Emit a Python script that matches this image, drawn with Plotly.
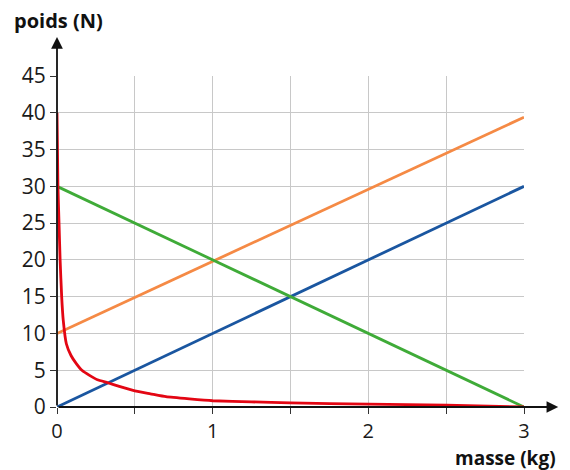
import plotly.graph_objects as go

# Data
masse = [0, 3]
poids_bleu = [0, 30]
poids_orange = [10, 39.4]
poids_vert = [30, 0]
masse_rouge = [0, 0.006, 0.013, 0.02, 0.03, 0.04, 0.06, 0.09, 0.124, 0.16, 0.209,
               0.26, 0.326, 0.4, 0.5, 0.6, 0.7, 0.85, 1.0, 1.25, 1.5, 2.0, 2.5, 3.0]
poids_rouge = [40, 30, 25, 20, 15, 11.8, 8.6, 7.0, 5.9, 5.0, 4.3,
               3.7, 3.3, 2.8, 2.2, 1.8, 1.4, 1.1, 0.85, 0.7, 0.55, 0.4, 0.25, 0]

x_ticks = [0, 0.5, 1, 1.5, 2, 2.5, 3]
x_ticktext = ["0", "", "1", "", "2", "", "3"]
y_ticks = [0, 5, 10, 15, 20, 25, 30, 35, 40, 45]

FONT = "Open Sans"
W, H = 562, 462          # page has an 8px body offset
L, R, T, B = 49, 46, 68, 63
PW, PH = W - L - R, H - T - B

fig = go.Figure()
line_w = 2.8
fig.add_trace(go.Scatter(x=masse, y=poids_bleu, mode="lines",
                         line=dict(color="#1a56a0", width=line_w)))
fig.add_trace(go.Scatter(x=masse, y=poids_orange, mode="lines",
                         line=dict(color="#f58a45", width=line_w)))
fig.add_trace(go.Scatter(x=masse, y=poids_vert, mode="lines",
                         line=dict(color="#3fab38", width=line_w)))
fig.add_trace(go.Scatter(x=masse_rouge, y=poids_rouge, mode="lines",
                         line=dict(color="#e30613", width=line_w, shape="spline", smoothing=0.4)))

axis_col = "#333333"
fig.update_layout(
    width=W, height=H,
    margin=dict(l=L, r=R, t=T, b=B, autoexpand=False),
    paper_bgcolor="white", plot_bgcolor="white",
    showlegend=False,
    font=dict(family=FONT, size=21, color="#1a1a1a"),
    xaxis=dict(range=[0, 3], tickvals=x_ticks, ticktext=x_ticktext,
               showgrid=True, gridcolor="#c8c8c8", gridwidth=1,
               zeroline=False, showline=False, automargin=False,
               ticks="outside", ticklen=6, tickcolor=axis_col, tickwidth=1.3,
               tickfont=dict(family=FONT, size=20)),
    yaxis=dict(range=[0, 45], tickvals=y_ticks,
               showgrid=True, gridcolor="#c8c8c8", gridwidth=1,
               zeroline=False, showline=False, automargin=False,
               ticks="outside", ticklen=6, tickcolor=axis_col, tickwidth=1.3,
               tickfont=dict(family=FONT, size=21)),
)

# Axes with arrows
fig.add_annotation(x=3.22, y=0, ax=0, ay=0, xref="x", yref="y", axref="x", ayref="y",
                   text="", showarrow=True, arrowhead=2, arrowsize=1.3,
                   arrowwidth=1.8, arrowcolor="#111111")
fig.add_annotation(x=0, y=50.3, ax=0, ay=0, xref="x", yref="y", axref="x", ayref="y",
                   text="", showarrow=True, arrowhead=2, arrowsize=1.3,
                   arrowwidth=1.8, arrowcolor="#111111")

# Axis titles (page pixel positions converted to paper coords)
fig.add_annotation(xref="paper", yref="paper",
                   x=(4 - L) / PW, y=1 + (T - 12) / PH,
                   text="<b>poids (N)</b>", showarrow=False,
                   xanchor="left", yanchor="middle",
                   font=dict(family=FONT, size=20, color="#111111"))
fig.add_annotation(xref="paper", yref="paper",
                   x=(550 - L) / PW, y=1 - (450 - T) / PH,
                   text="<b>masse (kg)</b>", showarrow=False,
                   xanchor="right", yanchor="middle",
                   font=dict(family=FONT, size=19, color="#111111"))

fig.write_html("out.html")
